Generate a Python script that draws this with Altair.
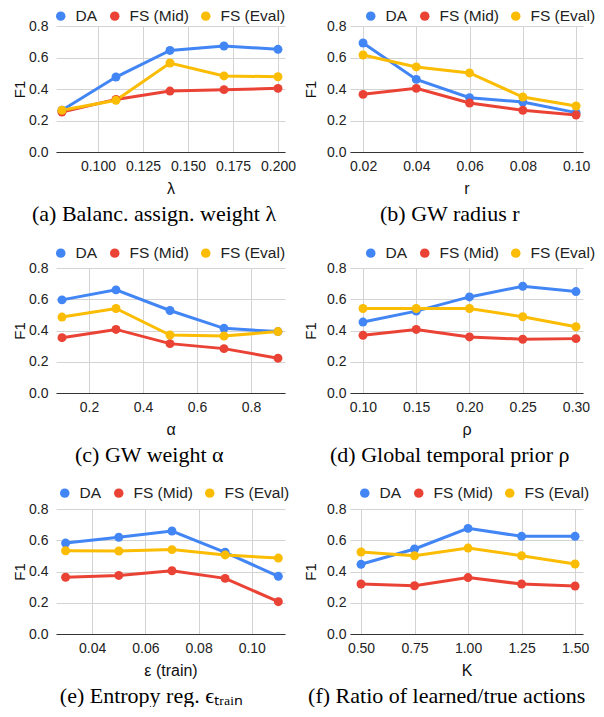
import altair as alt
import pandas as pd

SERIES = ["DA", "FS (Mid)", "FS (Eval)"]
COLORS = ["#4285F4", "#EA4335", "#FBBC04"]

# (a) Balanced assignment weight lambda
lam_x = [0.08, 0.11, 0.14, 0.17, 0.20]
a_da = [0.265, 0.476, 0.645, 0.673, 0.652]
a_mid = [0.254, 0.334, 0.387, 0.396, 0.404]
a_eval = [0.265, 0.328, 0.565, 0.483, 0.478]
a_ticks = [0.100, 0.125, 0.150, 0.175, 0.200]

# (b) GW radius r
r_x = [0.02, 0.04, 0.06, 0.08, 0.10]
b_da = [0.692, 0.461, 0.345, 0.317, 0.250]
b_mid = [0.366, 0.404, 0.311, 0.265, 0.235]
b_eval = [0.616, 0.540, 0.502, 0.349, 0.292]
b_ticks = [0.02, 0.04, 0.06, 0.08, 0.10]

# (c) GW weight alpha
alpha_x = [0.1, 0.3, 0.5, 0.7, 0.9]
c_da = [0.596, 0.660, 0.528, 0.414, 0.393]
c_mid = [0.354, 0.407, 0.316, 0.284, 0.223]
c_eval = [0.486, 0.541, 0.371, 0.365, 0.393]
c_ticks = [0.2, 0.4, 0.6, 0.8]

# (d) Global temporal prior rho
rho_x = [0.10, 0.15, 0.20, 0.25, 0.30]
d_da = [0.454, 0.524, 0.615, 0.683, 0.649]
d_mid = [0.369, 0.407, 0.359, 0.344, 0.348]
d_eval = [0.541, 0.541, 0.541, 0.488, 0.424]
d_ticks = [0.10, 0.15, 0.20, 0.25, 0.30]

# (e) Entropy reg. epsilon_train
eps_x = [0.03, 0.05, 0.07, 0.09, 0.11]
e_da = [0.582, 0.619, 0.659, 0.523, 0.369]
e_mid = [0.363, 0.375, 0.405, 0.356, 0.207]
e_eval = [0.533, 0.531, 0.540, 0.506, 0.486]
e_ticks = [0.04, 0.06, 0.08, 0.10]

# (f) Ratio of learned/true actions K
k_x = [0.50, 0.75, 1.00, 1.25, 1.50]
f_da = [0.446, 0.544, 0.676, 0.625, 0.625]
f_mid = [0.320, 0.309, 0.361, 0.320, 0.307]
f_eval = [0.525, 0.501, 0.550, 0.501, 0.448]
f_ticks = [0.50, 0.75, 1.00, 1.25, 1.50]

Y_TICKS = [0.0, 0.2, 0.4, 0.6, 0.8]
SANS = "Liberation Sans"


def panel(xs, da, mid, ev, xtitle, caption, domain, ticks, fmt,
          width, height, lx, ly, left_col):
    rows = []
    for name, col, vals in zip(SERIES, COLORS, [da, mid, ev]):
        for x, y in zip(xs, vals):
            rows.append({"x": x, "y": y, "series": name, "hex": col})
    df = pd.DataFrame(rows)
    base = alt.Chart(df).encode(
        x=alt.X("x:Q",
                scale=alt.Scale(domain=domain, nice=False, zero=False),
                axis=alt.Axis(values=ticks, format=fmt, title=xtitle,
                              grid=True, gridColor="#d3d3d3", ticks=False,
                              domain=True, domainColor="#333333",
                              labelFont=SANS, labelFontSize=14,
                              labelColor="#222222", labelPadding=7,
                              labelFlush=False,
                              titleFont=SANS, titleFontSize=16,
                              titleFontWeight="normal", titleColor="#111111",
                              titlePadding=7)),
        y=alt.Y("y:Q",
                scale=alt.Scale(domain=[0, 0.8], nice=False),
                axis=alt.Axis(values=Y_TICKS, format=".1f", title="F1",
                              grid=True, gridColor="#d3d3d3", ticks=False,
                              domain=False,
                              labelFont=SANS, labelFontSize=14,
                              labelColor="#222222",
                              labelPadding=8 if left_col else 4,
                              titleFont=SANS, titleFontSize=15,
                              titleFontWeight="normal", titleColor="#111111",
                              titlePadding=1 if left_col else 8)),
    )
    lines = base.mark_line(strokeWidth=3).encode(
        stroke=alt.Stroke("hex:N", scale=None),
    )
    pts = base.mark_circle(size=80, opacity=1).encode(
        color=alt.Color("series:N",
                        scale=alt.Scale(domain=SERIES, range=COLORS),
                        legend=alt.Legend(orient="none", legendX=lx, legendY=ly,
                                          direction="horizontal",
                                          title=None, symbolType="circle",
                                          symbolSize=90, symbolStrokeWidth=0,
                                          labelFont=SANS, labelFontSize=15.5,
                                          labelColor="#222222", labelOffset=7,
                                          columnPadding=9, padding=0)),
    )
    return alt.layer(lines, pts).properties(
        width=width, height=height,
        title=alt.TitleParams(text=caption, orient="bottom", anchor="middle",
                              frame="bounds",
                              font="Liberation Serif", fontSize=22,
                              fontWeight="normal", color="black", offset=8),
    )


pa = panel(lam_x, a_da, a_mid, a_eval, "λ", "(a) Balanc. assign. weight λ",
           [0.0767, 0.2039], a_ticks, ".3f", 229, 126, -3, -18, True)
pb = panel(r_x, b_da, b_mid, b_eval, "r", "(b) GW radius r",
           [0.0151, 0.1026], b_ticks, ".2f", 233, 126, 13, -18, False)
pc = panel(alpha_x, c_da, c_mid, c_eval, "α", "(c) GW weight α",
           [0.0778, 0.926], c_ticks, ".1f", 229, 125, -3, -23, True)
pd_ = panel(rho_x, d_da, d_mid, d_eval, "ρ", "(d) Global temporal prior ρ",
            [0.0878, 0.3066], d_ticks, ".2f", 233, 125, 13, -23, False)
pe = panel(eps_x, e_da, e_mid, e_eval, "ε (train)", "(e) Entropy reg. ϵₜᵣₐᵢₙ",
           [0.0264, 0.1125], e_ticks, ".2f", 229, 125, 1, -24, True)
pf = panel(k_x, f_da, f_mid, f_eval, "K", "(f) Ratio of learned/true actions",
           [0.4486, 1.537], f_ticks, ".2f", 233, 125, 7, -24, False)

chart = alt.concat(pa, pb, pc, pd_, pe, pf, columns=2,
                   spacing={"row": 116, "column": 65}, bounds="flush").resolve_scale(
    color="independent"
).properties(
    padding={"left": 4, "top": 0, "right": 0, "bottom": 0}
).configure_view(strokeWidth=0)

chart.save("out.html", embed_options={"renderer": "svg", "actions": False})
